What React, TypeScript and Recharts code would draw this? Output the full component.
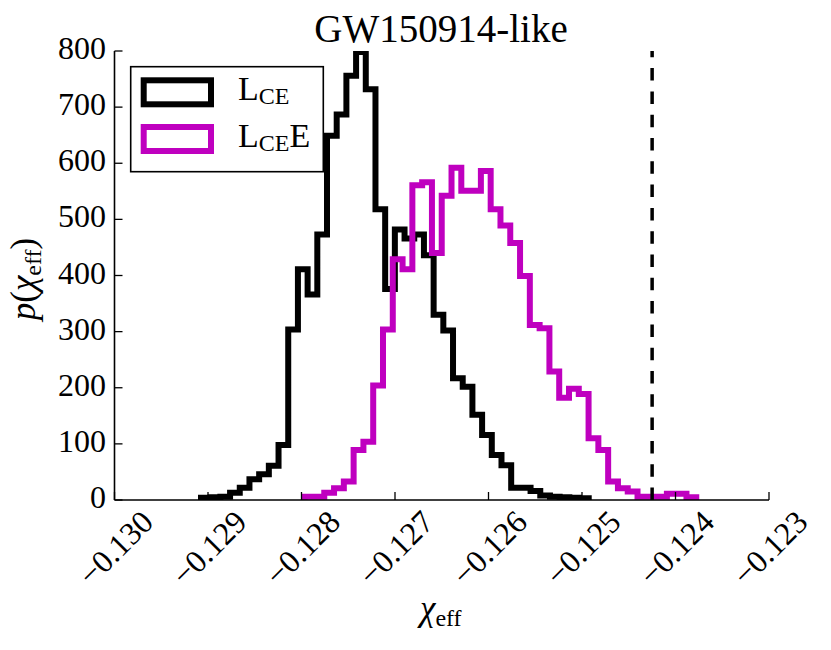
import React from 'react';
import { ComposedChart, Line, XAxis, YAxis, ReferenceLine } from 'recharts';

// ---- data ----
const X_TICKS = [-0.13, -0.129, -0.128, -0.127, -0.126, -0.125, -0.124, -0.123];
const Y_TICKS = [0, 100, 200, 300, 400, 500, 600, 700, 800];
const X_DOMAIN = [-0.13, -0.123];
const Y_DOMAIN = [0, 800];

// histogram bin ranges (first left edge, last right edge), 40 bins each
const LCE_RANGE = [-0.129075, -0.124928];
const LCEE_RANGE = [-0.127966, -0.123778];

const LCE_COUNTS = [
  4, 5, 6, 13, 22, 37, 46, 61, 98, 304,
  411, 366, 473, 649, 687, 756, 798, 732, 518, 376,
  482, 466, 473, 436, 330, 302, 217, 202, 152, 116,
  80, 62, 22, 22, 16, 8, 6, 5, 4, 3,
];
const LCEE_COUNTS = [
  6, 6, 13, 21, 33, 89, 104, 204, 304, 429,
  411, 561, 566, 440, 542, 592, 551, 551, 586, 518,
  489, 458, 399, 312, 306, 229, 182, 198, 189, 110,
  89, 33, 21, 15, 6, 6, 6, 11, 11, 5,
];

const THRESHOLD_X = -0.12425;

const BLACK = '#000000';
const MAGENTA = '#bf00bf';
const FONT = "'Liberation Serif', 'DejaVu Serif', serif";

function stepPoints(range: number[], counts: number[]) {
  const [lo, hi] = range;
  const w = (hi - lo) / counts.length;
  const pts: { x: number; y: number }[] = [{ x: lo, y: 0 }];
  counts.forEach((c, i) => pts.push({ x: lo + i * w, y: c }));
  pts.push({ x: hi, y: counts[counts.length - 1] });
  pts.push({ x: hi, y: 0 });
  return pts;
}

const lcePts = stepPoints(LCE_RANGE, LCE_COUNTS);
const lceePts = stepPoints(LCEE_RANGE, LCEE_COUNTS);

const fmtX = (v: number) => v.toFixed(3).replace('-', '\u2212');

const TICK_LEN = 8;
const TICK_STROKE = 1.3;

const BottomTick = (props: any) => {
  const { x, y, payload } = props;
  return (
    <g>
      <line x1={x} y1={y} x2={x} y2={y - TICK_LEN} stroke="#000" strokeWidth={TICK_STROKE} />
      <text
        transform={`translate(${x + 1},${y + 48}) rotate(-45)`}
        textAnchor="middle"
        dominantBaseline="central"
        fontFamily={FONT}
        fontSize={32}
        fill="#000"
      >
        {fmtX(payload.value)}
      </text>
    </g>
  );
};

const TopTick = (props: any) => {
  const { x, y } = props;
  return <line x1={x} y1={y} x2={x} y2={y + TICK_LEN} stroke="#000" strokeWidth={TICK_STROKE} />;
};

const LeftTick = (props: any) => {
  const { x, y, payload } = props;
  return (
    <g>
      <line x1={x} y1={y} x2={x + TICK_LEN} y2={y} stroke="#000" strokeWidth={TICK_STROKE} />
      <text x={x - 8.5} y={y + 8} textAnchor="end" fontFamily={FONT} fontSize={32} fill="#000">
        {payload.value}
      </text>
    </g>
  );
};

const RightTick = (props: any) => {
  const { x, y } = props;
  return <line x1={x} y1={y} x2={x - TICK_LEN} y2={y} stroke="#000" strokeWidth={TICK_STROKE} />;
};

const axisLine = { stroke: '#000', strokeWidth: 1.6 };

export default function App() {
  return (
    <div style={{ position: 'absolute', left: 0, top: 0, width: 831, height: 650, background: '#fff' }}>
      <ComposedChart width={831} height={650} margin={{ top: 51, right: 62, bottom: 50, left: 54.5 }}>
        <XAxis
          xAxisId="b"
          type="number"
          dataKey="x"
          domain={X_DOMAIN}
          ticks={X_TICKS}
          interval={0}
          height={100}
          tickSize={0}
          tickMargin={0}
          tickLine={false}
          axisLine={axisLine}
          tick={BottomTick}
          allowDataOverflow
        />
        <XAxis
          xAxisId="t"
          orientation="top"
          type="number"
          dataKey="x"
          domain={X_DOMAIN}
          ticks={X_TICKS}
          interval={0}
          height={0}
          tickSize={0}
          tickMargin={0}
          tickLine={false}
          axisLine={axisLine}
          tick={TopTick}
          allowDataOverflow
        />
        <YAxis
          yAxisId="l"
          type="number"
          domain={Y_DOMAIN}
          ticks={Y_TICKS}
          interval={0}
          width={60}
          tickSize={0}
          tickMargin={0}
          tickLine={false}
          axisLine={axisLine}
          tick={LeftTick}
          allowDataOverflow
        />
        <YAxis
          yAxisId="r"
          orientation="right"
          type="number"
          domain={Y_DOMAIN}
          ticks={Y_TICKS}
          interval={0}
          width={0}
          tickSize={0}
          tickMargin={0}
          tickLine={false}
          axisLine={axisLine}
          tick={RightTick}
          allowDataOverflow
        />
        <Line
          xAxisId="b"
          yAxisId="l"
          data={lcePts}
          dataKey="y"
          type="stepAfter"
          stroke={BLACK}
          strokeWidth={6}
          strokeLinejoin="miter"
          strokeLinecap="butt"
          dot={false}
          activeDot={false}
          isAnimationActive={false}
        />
        <Line
          xAxisId="b"
          yAxisId="l"
          data={lceePts}
          dataKey="y"
          type="stepAfter"
          stroke={MAGENTA}
          strokeWidth={6}
          strokeLinejoin="miter"
          strokeLinecap="butt"
          dot={false}
          activeDot={false}
          isAnimationActive={false}
        />
        <ReferenceLine
          xAxisId="b"
          yAxisId="l"
          x={THRESHOLD_X}
          stroke="#000"
          strokeWidth={3.5}
          strokeDasharray="12.5 10.8"
        />
      </ComposedChart>
      <svg
        width={831}
        height={650}
        style={{ position: 'absolute', left: 0, top: 0, pointerEvents: 'none' }}
        fontFamily={FONT}
      >
        <text x={441} y={41.5} textAnchor="middle" fontSize={39} fill="#000">
          GW150914-like
        </text>
        {/* x label */}
        <text x={420} y={620} fontSize={35} fill="#000">
          <tspan fontStyle="italic">χ</tspan>
          <tspan fontSize={24} dy={6}>eff</tspan>
        </text>
        {/* y label */}
        <text transform="translate(35,279) rotate(-90)" textAnchor="middle" fontSize={35} fill="#000">
          <tspan fontStyle="italic">p</tspan>
          <tspan>(</tspan>
          <tspan fontStyle="italic">χ</tspan>
          <tspan fontSize={24} dy={6}>eff</tspan>
          <tspan dy={-6}>)</tspan>
        </text>
        {/* legend */}
        <rect x={130.7} y={66.7} width={192.6} height={105} fill="#fff" stroke="#000" strokeWidth={1.6} />
        <rect x={143.7} y={80.3} width={67.3} height={24} fill="none" stroke={BLACK} strokeWidth={6} />
        <rect x={143.7} y={127} width={67.3} height={24} fill="none" stroke={MAGENTA} strokeWidth={6} />
        <text x={238} y={100} fontSize={34} fill="#000">
          <tspan>L</tspan>
          <tspan fontSize={24} dy={4}>CE</tspan>
        </text>
        <text x={238} y={146.7} fontSize={34} fill="#000">
          <tspan>L</tspan>
          <tspan fontSize={24} dy={4}>CE</tspan>
          <tspan dy={-4}>E</tspan>
        </text>
      </svg>
    </div>
  );
}
